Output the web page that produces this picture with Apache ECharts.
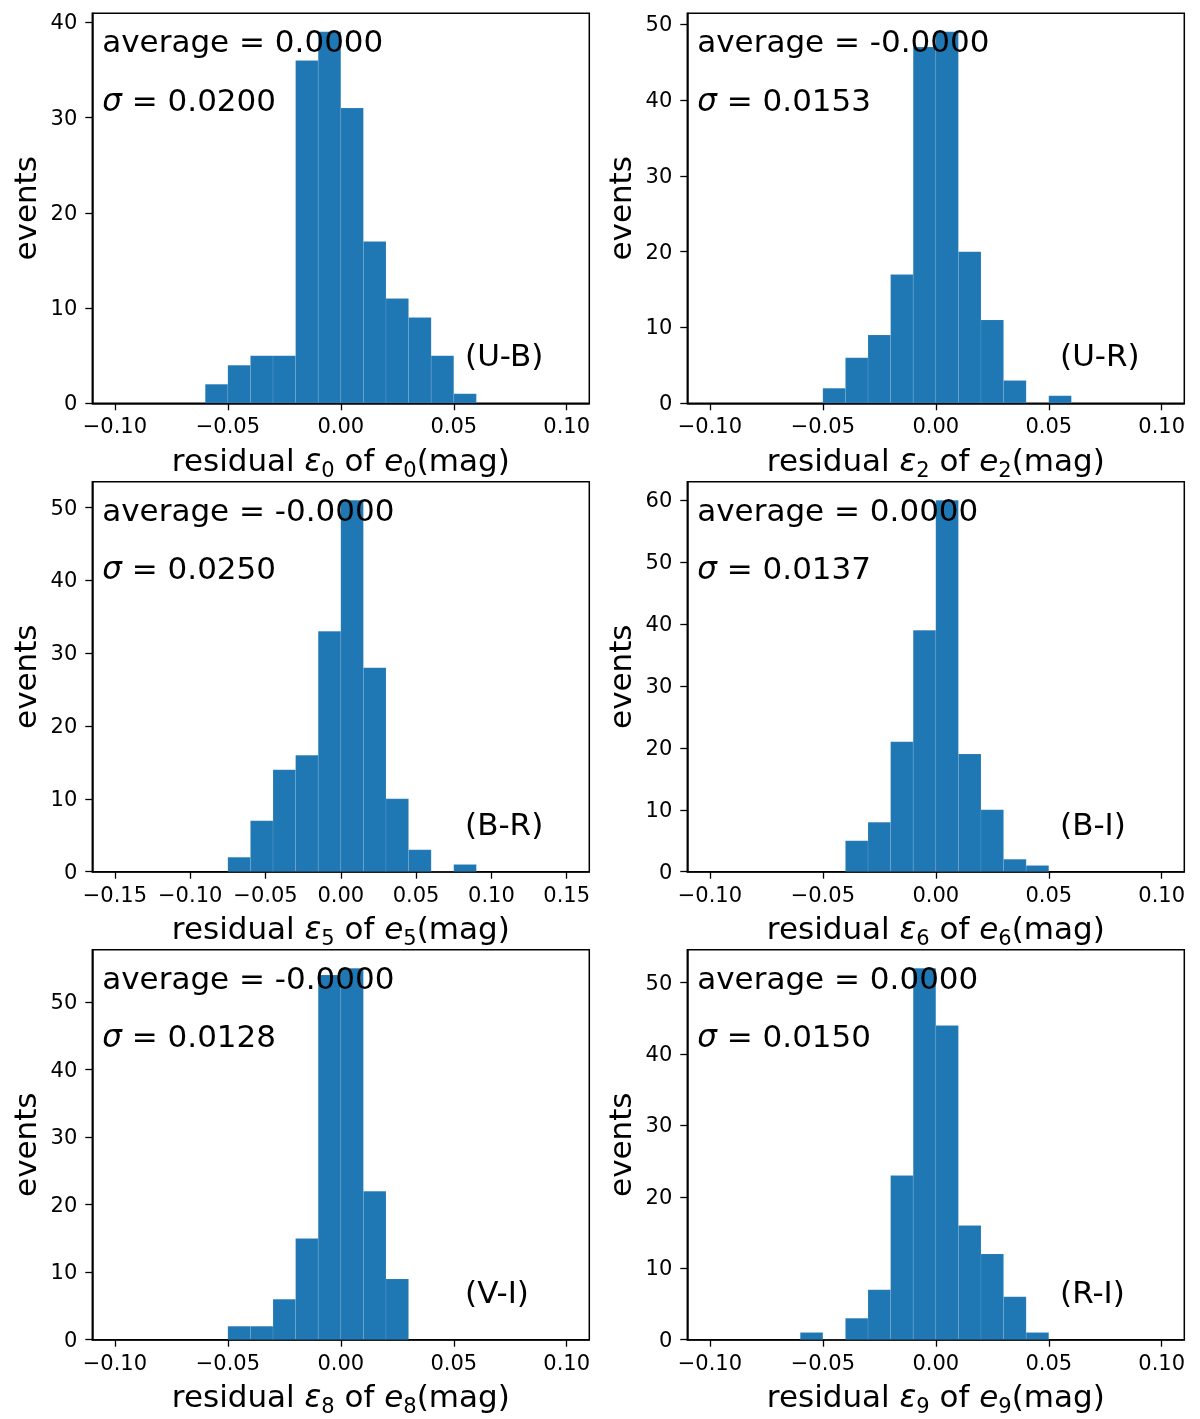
<!DOCTYPE html>
<html><head><meta charset="utf-8">
<script src="https://cdn.jsdelivr.net/npm/echarts@6/dist/echarts.min.js"></script>
<style>html,body{margin:0;padding:0;background:#fff}#c{width:1200px;height:1419px}</style>
</head><body><div id="c"></div>
<script>
// ---- data: histogram bin edges and counts ----
const edgesUB = [-0.06,-0.05,-0.04,-0.03,-0.02,-0.01,0.00,0.01,0.02,0.03,0.04,0.05,0.06];
const countsUB = [2,4,5,5,36,39,31,17,11,9,5,1];
const edgesUR = [-0.05,-0.04,-0.03,-0.02,-0.01,0.00,0.01,0.02,0.03,0.04,0.05,0.06];
const countsUR = [2,6,9,17,47,49,20,11,3,0,1];
const edgesBR = [-0.075,-0.06,-0.045,-0.03,-0.015,0.00,0.015,0.03,0.045,0.06,0.075,0.09];
const countsBR = [2,7,14,16,33,51,28,10,3,0,1];
const edgesBI = [-0.04,-0.03,-0.02,-0.01,0.00,0.01,0.02,0.03,0.04,0.05];
const countsBI = [5,8,21,39,60,19,10,2,1];
const edgesVI = [-0.05,-0.04,-0.03,-0.02,-0.01,0.00,0.01,0.02,0.03];
const countsVI = [2,2,6,15,54,55,22,9];
const edgesRI = [-0.06,-0.05,-0.04,-0.03,-0.02,-0.01,0.00,0.01,0.02,0.03,0.04,0.05];
const countsRI = [1,0,3,7,23,52,44,16,12,6,1];

// ---- tick labels ----
const xTicksA = [-0.10,-0.05,0.00,0.05,0.10];
const xTicksB = [-0.15,-0.10,-0.05,0.00,0.05,0.10,0.15];
const yTicks40 = [0,10,20,30,40];
const yTicks50 = [0,10,20,30,40,50];
const yTicks60 = [0,10,20,30,40,50,60];

// ---- annotations ----
const averages = ['0.0000','-0.0000','-0.0000','0.0000','-0.0000','0.0000'];
const sigmas = ['0.0200','0.0153','0.0250','0.0137','0.0128','0.0150'];
const colorNames = ['(U-B)','(U-R)','(B-R)','(B-I)','(V-I)','(R-I)'];
const indices = ['0','2','5','6','8','9'];

const panels = [
  {edges: edgesUB, counts: countsUB, xl: 0.11, xt: xTicksA, yt: yTicks40},
  {edges: edgesUR, counts: countsUR, xl: 0.11, xt: xTicksA, yt: yTicks50},
  {edges: edgesBR, counts: countsBR, xl: 0.165, xt: xTicksB, yt: yTicks50},
  {edges: edgesBI, counts: countsBI, xl: 0.11, xt: xTicksA, yt: yTicks60},
  {edges: edgesVI, counts: countsVI, xl: 0.11, xt: xTicksA, yt: yTicks50},
  {edges: edgesRI, counts: countsRI, xl: 0.11, xt: xTicksA, yt: yTicks50}
];

// ---- layout ----
const FONT = 'DejaVu Sans';
const colLeft = [92.3, 687.3];
const rowTop = [13.3, 481.7, 949.7];
const W = 497, H = 390;
const BIG = 31, TICK = 21, SUB = 21;

const tickText = {fontFamily: FONT, fontSize: TICK, color: '#000'};

const grids = [], xAxes = [], yAxes = [], series = [], graphics = [];
panels.forEach((p, i) => {
  const left = colLeft[i % 2], top = rowTop[Math.floor(i / 2)];
  grids.push({left: left, top: top, width: W, height: H, show: true,
    borderColor: '#000', borderWidth: 1.5, backgroundColor: 'transparent', outerBoundsMode: 'none'});
  const sub = indices[i];
  xAxes.push({type: 'value', gridIndex: i, min: -p.xl, max: p.xl,
    axisLine: {show: true, onZero: false, lineStyle: {color: '#000', width: 1.5}},
    axisTick: {show: true, length: 7, lineStyle: {color: '#000', width: 1.3}, customValues: p.xt},
    axisLabel: {show: true, customValues: p.xt, margin: 14,
      color: '#000', fontFamily: FONT, fontSize: TICK,
      formatter: function (v) { return '{t|' + Number(v).toFixed(2).replace('-', '\u2212') + '}'; },
      rich: {t: tickText}},
    splitLine: {show: false},
    name: '{n|residual }{i|\u03b5}{s|' + sub + '}{n| of }{i|e}{s|' + sub + '}{n|(mag)}',
    nameLocation: 'middle', nameGap: 40.5,
    nameTextStyle: {rich: {
      n: {fontFamily: FONT, fontSize: BIG, color: '#000'},
      i: {fontFamily: FONT, fontSize: BIG, color: '#000', fontStyle: 'italic'},
      s: {fontFamily: FONT, fontSize: SUB, color: '#000', padding: [17, 0, 0, 0]}
    }}
  });
  const ymax = Math.max.apply(null, p.counts) * 1.05;
  yAxes.push({type: 'value', gridIndex: i, min: 0, max: ymax,
    axisLine: {show: true, onZero: false, lineStyle: {color: '#000', width: 1.5}},
    axisTick: {show: true, length: 7, lineStyle: {color: '#000', width: 1.3}, customValues: p.yt},
    axisLabel: {show: true, customValues: p.yt, margin: 15,
      color: '#000', fontFamily: FONT, fontSize: TICK,
      formatter: function (v) { return '{t|' + v + '}'; },
      rich: {t: Object.assign({padding: [3, 0, 0, 0]}, tickText)}},
    splitLine: {show: false},
    name: 'events', nameLocation: 'middle', nameGap: 49,
    nameTextStyle: {fontFamily: FONT, fontSize: BIG, color: '#000'}
  });
  const data = p.counts.map((c, k) => [p.edges[k], p.edges[k + 1], c]);
  series.push({type: 'custom', xAxisIndex: i, yAxisIndex: i, data: data,
    encode: {x: [0, 1], y: 2}, clip: true,
    renderItem: function (params, api) {
      const a = api.coord([api.value(0), 0]);
      const b = api.coord([api.value(1), api.value(2)]);
      return {type: 'rect', shape: {x: a[0], y: b[1], width: b[0] - a[0], height: a[1] - b[1]},
        style: {fill: '#1f77b4', stroke: 'rgba(255,255,255,0.12)', lineWidth: 0.8}};
    }
  });
  const tx = left + 0.02 * W;
  const mid = 0.36 * BIG - 3;
  graphics.push({type: 'text', z: 100, x: tx, y: top + 0.10 * H - mid,
    style: {text: 'average = ' + averages[i], font: BIG + 'px "' + FONT + '"', fill: '#000', verticalAlign: 'middle', align: 'left'}});
  graphics.push({type: 'text', z: 100, x: tx, y: top + 0.25 * H - mid,
    style: {rich: {s: {fontStyle: 'italic', fontFamily: FONT, fontSize: BIG, fill: '#000'}, n: {fontFamily: FONT, fontSize: BIG, fill: '#000'}},
      text: '{s|\u03c3}{n| = ' + sigmas[i] + '}', font: BIG + 'px "' + FONT + '"', fill: '#000', verticalAlign: 'middle', align: 'left'}});
  graphics.push({type: 'text', z: 100, x: left + 0.75 * W, y: top + 0.905 * H - mid,
    style: {text: colorNames[i], font: BIG + 'px "' + FONT + '"', fill: '#000', verticalAlign: 'middle', align: 'left'}});
});

const chart = echarts.init(document.getElementById('c'), null, {renderer: 'canvas'});
chart.setOption({
  backgroundColor: '#fff',
  animation: false,
  grid: grids, xAxis: xAxes, yAxis: yAxes, series: series, graphic: graphics
});
</script></body></html>
